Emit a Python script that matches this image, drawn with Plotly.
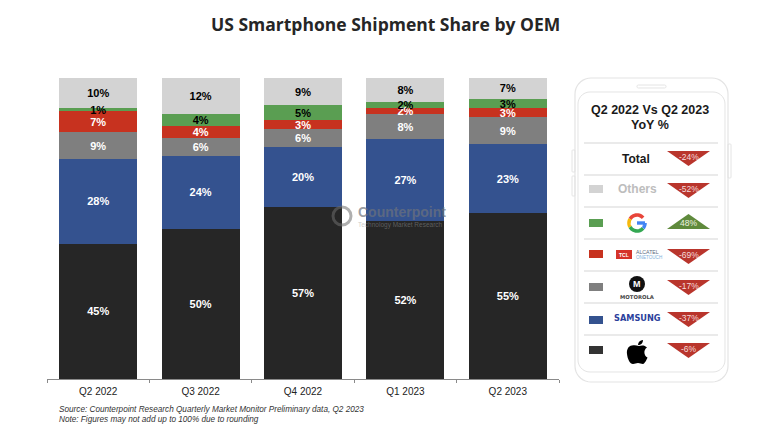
import numpy as np
import plotly.graph_objects as go

W, H = 762, 432

quarters = ["Q2 2022", "Q3 2022", "Q4 2022", "Q1 2023", "Q2 2023"]
apple = [45, 50, 57, 52, 55]
samsung = [28, 24, 20, 27, 23]
motorola = [9, 6, 6, 8, 9]
tcl = [7, 4, 3, 2, 3]
google = [1, 4, 5, 2, 3]
others = [10, 12, 9, 8, 7]

yoy_rows = ["Total", "Others", "Google", "TCL", "Motorola", "Samsung", "Apple"]
yoy_values = [-24, -52, 48, -69, -17, -37, -6]

title_text = "US Smartphone Shipment Share by OEM"
source_text = "Source: Counterpoint Research Quarterly Market Monitor Preliminary data, Q2 2023"
note_text = "Note: Figures may not add up to 100% due to rounding"

ARIAL = "Liberation Sans"


def px(x):
    return x / W


def py(y):
    return 1 - y / H


def path(points, close=True):
    s = "M" + " L".join(f"{px(x):.5f},{py(y):.5f}" for x, y in points)
    return s + (" Z" if close else "")


def rounded(x0, y0, x1, y1, r):
    # rounded rectangle as a polyline, pixel coords in
    pts = []
    for cx, cy, a0 in [(x1 - r, y0 + r, -90), (x1 - r, y1 - r, 0), (x0 + r, y1 - r, 90), (x0 + r, y0 + r, 180)]:
        for a in np.radians(np.arange(a0, a0 + 91, 10)):
            pts.append((cx + r * np.cos(a), cy + r * np.sin(a)))
    return path(pts)


def arc(cx, cy, r, a0, a1):
    return [(cx + r * np.cos(a), cy + r * np.sin(a)) for a in np.radians(np.linspace(a0, a1, 14))]


def label(x, y, text, size, color="#222222", font=ARIAL, bold=False, anchor="center", italic=False, opacity=1):
    if bold:
        text = "<b>" + text + "</b>"
    if italic:
        text = "<i>" + text + "</i>"
    fig.add_annotation(
        x=px(x), y=py(y), xref="paper", yref="paper", text=text, showarrow=False,
        xanchor=anchor, yanchor="middle", opacity=opacity,
        font=dict(family=font, size=size, color=color),
    )


def shape_path(d, fill="rgba(0,0,0,0)", line=None, width=0):
    fig.add_shape(
        type="path", path=d, xref="paper", yref="paper", fillcolor=fill,
        line=dict(color=line or "rgba(0,0,0,0)", width=width),
    )


fig = go.Figure()

series = [
    ("Apple", apple, "#262626", "white"),
    ("Samsung", samsung, "#34528f", "white"),
    ("Motorola", motorola, "#7f7f7f", "white"),
    ("TCL", tcl, "#c7321f", "white"),
    ("Google", google, "#5a9e52", "black"),
    ("Others", others, "#d3d3d3", "black"),
]

for name, vals, color, txt in series:
    fig.add_trace(go.Bar(
        x=quarters, y=vals, name=name,
        marker=dict(color=color, line=dict(width=0)),
        hoverinfo="skip",
    ))

# labels go in their own traces, a later bar would cover text drawn with an earlier one
totals = np.sum([s[1] for s in series], axis=0)
base = np.zeros(len(quarters))
for name, vals, color, txt in series:
    vals = np.array(vals)
    fig.add_trace(go.Scatter(
        x=quarters, y=(base + vals / 2) / totals * 100 - 0.4, mode="text",
        text=[f"<b>{v}%</b>" for v in vals], textposition="middle center",
        textfont=dict(family=ARIAL, size=11, color=txt),
        hoverinfo="skip",
    ))
    base = base + vals

fig.update_layout(
    width=W, height=H, barmode="stack", barnorm="percent", bargap=0.24,
    showlegend=False, paper_bgcolor="white", plot_bgcolor="white",
    margin=dict(l=0, r=0, t=0, b=0),
    xaxis=dict(
        domain=[px(47), px(559)], type="category", tickson="boundaries",
        ticks="outside", ticklen=3, tickcolor="#8a8a8a", showline=True, linecolor="#8a8a8a",
        linewidth=1, showgrid=False, ticklabelstandoff=3,
        tickfont=dict(family=ARIAL, size=10, color="#222222"),
    ),
    yaxis=dict(domain=[py(379), py(78)], range=[0, 100], visible=False),
)

# title and footnotes
label(385, 24, title_text, 17.5, color="#262626", font="Open Sans", bold=True)
label(57, 409, source_text, 8.2, color="#333333", italic=True, anchor="left")
label(57, 419, note_text, 8.2, color="#333333", italic=True, anchor="left")

# watermark over the bars
fig.add_shape(type="circle", xref="paper", yref="paper", x0=px(333), x1=px(351), y0=py(225), y1=py(207),
              line=dict(color="rgba(110,110,110,0.55)", width=3))
label(356, 212, "Counterpoint", 14, color="rgba(110,115,125,0.7)", bold=True, anchor="left")
label(356, 225, "Technology Market Research", 6.5, color="rgba(150,150,150,0.5)", anchor="left")

# phone frame
PHONE = "#e4e4e4"
shape_path(rounded(575, 78, 728, 382, 16), fill="white", line=PHONE, width=1.2)
shape_path(rounded(578, 92, 725, 372, 12), line=PHONE, width=1)
shape_path(rounded(637, 85, 666, 88, 1.5), line=PHONE, width=1)
shape_path(rounded(572, 150, 575, 172, 1), line=PHONE, width=1)
shape_path(rounded(572, 176, 575, 196, 1), line=PHONE, width=1)
shape_path(rounded(728, 144, 731, 178, 1), line=PHONE, width=1)

label(650, 110, "Q2 2022 Vs Q2 2023", 12.5, color="#1a1a1a", bold=True)
label(650, 125, "YoY %", 12.5, color="#1a1a1a", bold=True)

row_lines = [143, 175, 207, 239, 271, 303, 335]
row_tops = [151, 183, 214, 249, 280, 312, 343]
swatch_y = [None, 189, 223, 254, 287, 320, 350]
swatch_col = [None, "#d3d3d3", "#5a9e52", "#c7321f", "#7f7f7f", "#34528f", "#333333"]

for i, (row, val) in enumerate(zip(yoy_rows, yoy_values)):
    fig.add_shape(type="line", xref="paper", yref="paper", x0=px(584), x1=px(718),
                  y0=py(row_lines[i]), y1=py(row_lines[i]), line=dict(color="#d5d5d5", width=1))
    top = row_tops[i]
    if val < 0:
        shape_path(path([(667, top), (710, top), (688.5, top + 15)]), fill="#b9352c")
        label(688.5, top + 6, f"{val}%", 8.5, color="#f6dcdc")
    else:
        shape_path(path([(667, top + 15), (710, top + 15), (688.5, top)]), fill="#5f8a3c")
        label(688.5, top + 9, f"{val}%", 8.5, color="#eef3e2")
    if swatch_y[i]:
        shape_path(path([(589, swatch_y[i] - 4), (603, swatch_y[i] - 4), (603, swatch_y[i] + 4), (589, swatch_y[i] + 4)]),
                   fill=swatch_col[i])

label(636, 159, "Total", 12, color="#1a1a1a", bold=True)
label(637, 189, "Others", 12, color="#bdbdbd", bold=True)

# google G
for a0, a1, col in [(-150, -40, "#e8453a"), (150, 210, "#f6b90c"), (40, 150, "#34a853"), (0, 40, "#4285f4")]:
    shape_path(path(arc(637, 223, 8, a0, a1), close=False), line=col, width=3.6)
shape_path(path([(637, 223), (645, 223)], close=False), line="#4285f4", width=3.4)

# tcl alcatel
shape_path(path([(616, 250), (632, 250), (632, 259), (616, 259)]), fill="#d5332a")
label(624, 254.5, "TCL", 5, color="white", bold=True)
label(634, 252, "ALCATEL", 5.2, color="#5a6a80", anchor="left")
label(634, 257, "ONETOUCH", 4.6, color="#7fb0dc", anchor="left")

# motorola
fig.add_shape(type="circle", xref="paper", yref="paper", x0=px(629), x1=px(645), y0=py(292), y1=py(276),
              fillcolor="#111111", line=dict(width=0))
label(637, 284, "M", 9, color="white", bold=True)
label(637, 296.5, "MOTOROLA", 5.3, color="#444444", font="DejaVu Sans", bold=True)

# samsung
label(637, 318, "SAMSUNG", 8.2, color="#2b3f9c", font="DejaVu Sans", bold=True)

# apple
apple_body = (
    f"M{px(639)},{py(346)} C{px(636)},{py(345)} {px(634)},{py(345)} {px(632)},{py(345.5)} "
    f"C{px(628)},{py(346)} {px(626.5)},{py(350)} {px(627)},{py(354)} "
    f"C{px(627.5)},{py(359)} {px(630)},{py(364)} {px(633)},{py(364)} "
    f"C{px(635)},{py(364)} {px(636)},{py(363)} {px(638)},{py(363)} "
    f"C{px(640)},{py(363)} {px(641)},{py(364)} {px(643)},{py(364)} "
    f"C{px(645)},{py(363.5)} {px(647)},{py(359)} {px(647.5)},{py(357.5)} "
    f"C{px(644)},{py(356)} {px(643)},{py(350)} {px(647)},{py(347.5)} "
    f"C{px(645)},{py(345)} {px(641.5)},{py(345)} {px(639)},{py(346)} Z"
)
shape_path(apple_body, fill="black")
shape_path(
    f"M{px(638)},{py(345)} C{px(638)},{py(342)} {px(640)},{py(340.5)} {px(643)},{py(340)} "
    f"C{px(643)},{py(343)} {px(641)},{py(345)} {px(638)},{py(345)} Z",
    fill="black",
)

# the page's default body margin would push the figure off by 8px
fig.write_html("out.html", config={"displayModeBar": False}, post_script="document.body.style.margin='0';")
